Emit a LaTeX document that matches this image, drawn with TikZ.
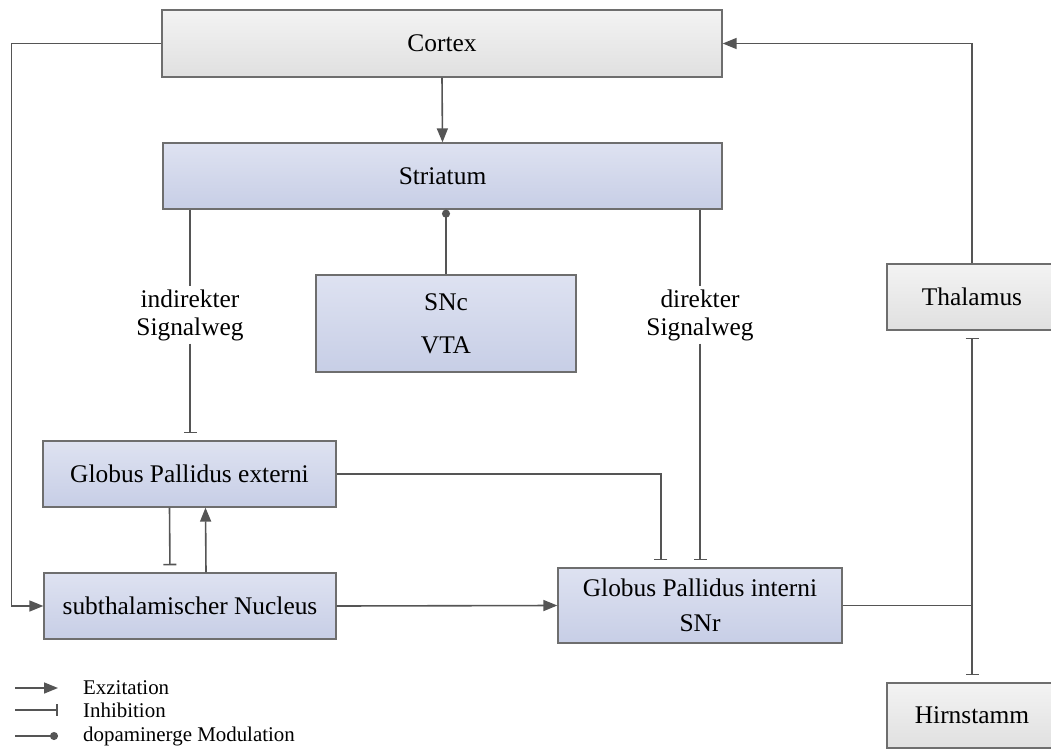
\documentclass[tikz,border=0pt]{standalone}
\usepackage{fontspec}
\setmainfont{Liberation Serif}
\usetikzlibrary{arrows.meta,calc}

\definecolor{edgegray}{HTML}{555555}
\definecolor{boxline}{HTML}{6E6E6E}
\definecolor{graytop}{HTML}{F3F3F3}
\definecolor{graybot}{HTML}{E0E0E0}
\definecolor{bluetop}{HTML}{DEE2F1}
\definecolor{bluebot}{HTML}{C7CEE6}

\tikzset{
  box/.style={draw=boxline, line width=1.3bp, rectangle, align=center,
    font=\fontsize{25.5}{37}\selectfont, inner sep=0pt},
  graybox/.style={box, top color=graytop, bottom color=graybot},
  bluebox/.style={box, top color=bluetop, bottom color=bluebot},
  lbl/.style={align=center, font=\fontsize{25.5}{28}\selectfont, inner sep=3bp},
  legtext/.style={anchor=west, font=\fontsize{21}{24}\selectfont, inner sep=0pt},
  conn/.style={draw=edgegray, line width=1.6bp},
  exc/.style={conn, -{Triangle[length=14bp,width=11bp]}},
  inh/.style={conn, -{Bar[width=13bp,line width=1.6bp]}, shorten >=7bp},
  mod/.style={conn, {Circle[length=8bp]}-},
}

\begin{document}
\begin{tikzpicture}[x=1bp, y=-1bp]
\useasboundingbox (0,0) rectangle (1051,753);

% areas
\node[graybox, minimum width=560bp, minimum height=67bp] (cortex) at (442,43.5) {Cortex};
\node[bluebox, minimum width=559bp, minimum height=66bp] (striatum) at (442.5,176) {Striatum};
\node[bluebox, minimum width=260bp, minimum height=97bp, font=\fontsize{25.5}{43}\selectfont] (snc) at (446,323.5) {SNc\\VTA};
\node[bluebox, minimum width=293bp, minimum height=66bp] (gpe) at (189.5,474) {Globus Pallidus externi};
\node[bluebox, minimum width=292bp, minimum height=66bp] (stn) at (190,606) {subthalamischer Nucleus};
\node[bluebox, minimum width=284bp, minimum height=75bp, font=\fontsize{25.5}{35}\selectfont] (gpi) at (700,605.5) {Globus Pallidus interni\\SNr};
\node[graybox, minimum width=170bp, minimum height=66bp] (thal) at (972,297) {Thalamus};
\node[graybox, minimum width=170bp, minimum height=65bp] (hirn) at (972,715.5) {Hirnstamm};

% pathway labels
\node[lbl] (ind) at (190,315) {indirekter\\Signalweg};
\node[lbl] (dir) at (700,315) {direkter\\Signalweg};

% connections
\draw[exc] (cortex.south) -- (striatum.north);
\draw[exc] (cortex.west) -- ++(-150,0) |- (stn.west);
\draw[mod] (snc.north |- striatum.south) -- (snc.north);
\draw[conn] (striatum.south -| ind) -- (ind.north);
\draw[inh] (ind.south) -- (gpe.north -| ind);
\draw[conn] (striatum.south -| dir) -- (dir.north);
\draw[inh] (dir.south) -- (gpi.north);
\draw[inh] (gpe.east) -| ($(gpi.north west)!0.363!(gpi.north east)$);
\draw[inh] ([xshift=-20bp]gpe.south) -- ([xshift=-20bp]stn.north);
\draw[exc] ([xshift=16bp]stn.north) -- ([xshift=16bp]gpe.south);
\draw[exc] (stn.east) -- (gpi.west);
\coordinate (jn) at (thal.south |- gpi.east);
\draw[conn] (gpi.east) -- (jn);
\draw[inh] (jn) -- (thal.south);
\draw[inh] (jn) -- (hirn.north);
\draw[exc] (thal.north) |- (cortex.east);

% legend
\coordinate (le1) at (15,688);
\coordinate (le2) at (15,710);
\coordinate (le3) at (15,736);
\draw[exc] (le1) -- ++(43,0);
\draw[conn, -{Bar[width=12bp,line width=1.6bp]}] (le2) -- ++(43,0);
\draw[conn, -{Circle[length=8bp]}] (le3) -- ++(43,0);
\node[legtext] (t1) at (83,688) {Exzitation};
\node[legtext] (t2) at (83,710) {Inhibition};
\node[legtext] (t3) at (83,736) {dopaminerge Modulation};
\end{tikzpicture}
\end{document}
